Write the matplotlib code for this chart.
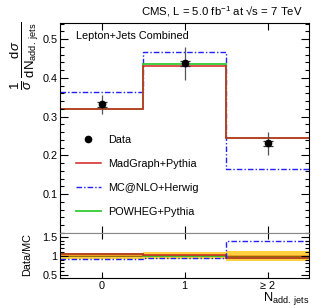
import numpy as np
import matplotlib
matplotlib.use("Agg")
from matplotlib import pyplot as plt
from matplotlib.ticker import MultipleLocator
from matplotlib.lines import Line2D

plt.rcParams['font.family'] = ['Liberation Sans', 'DejaVu Sans']
plt.rcParams['mathtext.fontset'] = 'custom'
plt.rcParams['mathtext.rm'] = 'Liberation Sans'
plt.rcParams['mathtext.it'] = 'Liberation Sans:italic'
plt.rcParams['mathtext.sf'] = 'Liberation Sans'

# data
bins = [0, 1, 2]
bin_labels = ["0", "1", "\u2265 2"]
data = np.array([0.332, 0.438, 0.231])
data_err = np.array([0.025, 0.043, 0.029])
data_stat = np.array([0.006, 0.007, 0.006])
madgraph = np.array([0.321, 0.432, 0.244])
mcatnlo = np.array([0.363, 0.468, 0.166])
powheg = np.array([0.319, 0.437, 0.244])

edges = np.arange(len(bins) + 1) - 0.5
x = np.array(bins)

red = '#d42020'
blue = '#2020ff'
green = '#33cc33'
dashdot = (0, (4, 1.5, 1, 1.5))

fig = plt.figure(figsize=(3.16, 3.08), dpi=100)
ax = fig.add_axes([0.190, 0.2435, 0.788, 0.682])
rx = fig.add_axes([0.190, 0.0958, 0.788, 0.1477])

# main panel
ax.stairs(mcatnlo, edges, baseline=None, color=blue, lw=1.0, ls=dashdot)
ax.stairs(powheg, edges, baseline=None, color=green, lw=1.3)
ax.stairs(madgraph, edges, baseline=None, color=red, lw=1.1)
ax.errorbar(x, data, yerr=data_err, fmt='none', ecolor='#555555', elinewidth=0.9)
ax.errorbar(x, data, yerr=data_stat, fmt='o', color='black', ms=4.5, ecolor='#333333',
            elinewidth=0.9, capsize=3.5, capthick=0.9)

handles = [Line2D([], [], marker='o', ls='none', color='black', ms=4.5),
           Line2D([], [], color=red, lw=1.1),
           Line2D([], [], color=blue, lw=1.0, ls=dashdot),
           Line2D([], [], color=green, lw=1.3)]
labels = ['Data', 'MadGraph+Pythia', 'MC@NLO+Herwig', 'POWHEG+Pythia']
ax.legend(handles, labels, loc='upper left',
          bbox_to_anchor=(0.064, 0.468), frameon=False, fontsize=7.8,
          handlelength=2.3, handletextpad=0.65, labelspacing=1.3,
          borderpad=0, borderaxespad=0)

ax.set_xlim(edges[0], edges[-1])
ax.set_ylim(0, 0.542)
ax.yaxis.set_minor_locator(MultipleLocator(0.02))
ax.set_yticks([0.1, 0.2, 0.3, 0.4, 0.5])
ax.set_yticklabels(['0.1', '0.2', '0.3', '0.4', '0.5'])
ax.set_xticks(x)
ax.tick_params(axis='x', labelbottom=False, top=True, direction='in', length=5, width=0.8)
ax.tick_params(axis='y', which='major', direction='in', length=6, width=0.8,
               right=True, labelsize=7.8, pad=2)
ax.tick_params(axis='y', which='minor', direction='in', length=3, width=0.8, right=True)
ax.spines['bottom'].set_color('#888888')
for s in ['left', 'right', 'top']:
    ax.spines[s].set_linewidth(0.8)

ax.text(0.064, 0.938, 'Lepton+Jets Combined', transform=ax.transAxes, fontsize=7.8,
        va='center', ha='left')

# ratio panel
rel = data_err / data
rel_stat = data_stat / data
rx.stairs(1 + rel, edges, baseline=1 - rel, fill=True, color='#ffd040', lw=0)
rx.stairs(1 + rel_stat, edges, baseline=1 - rel_stat, fill=True, color='#f0a020', lw=0)
rx.stairs(np.ones(len(bins)), edges, baseline=None, color='#806000', lw=0.6)
rx.stairs(data / powheg, edges, baseline=None, color=green, lw=1.2)
rx.stairs(data / madgraph, edges, baseline=None, color=red, lw=1.1)
rx.stairs(data / mcatnlo, edges, baseline=None, color=blue, lw=1.0, ls=dashdot)

rx.set_xlim(edges[0], edges[-1])
rx.set_ylim(0.4, 1.6)
rx.set_yticks([0.5, 1.0, 1.5])
rx.set_yticklabels(['0.5', '1', '1.5'])
rx.yaxis.set_minor_locator(MultipleLocator(0.1))
rx.set_xticks(x)
rx.set_xticklabels(bin_labels)
rx.tick_params(axis='x', top=True, direction='in', length=4, width=0.8, labelsize=7.8, pad=1.5)
rx.tick_params(axis='y', which='major', direction='in', length=6, width=0.8,
               right=True, labelsize=7.8, pad=2)
rx.tick_params(axis='y', which='minor', direction='in', length=3, width=0.8, right=True)
rx.spines['top'].set_color('#888888')
for s in ['left', 'right', 'bottom']:
    rx.spines[s].set_linewidth(0.8)

# labels
fig.text(0.959, 0.961, 'CMS, L = 5.0 fb$^{-1}$ at \u221as = 7 TeV', fontsize=8.2,
         ha='right', va='center')
fig.text(0.079, 0.93,
         r'$\frac{1}{\sigma}\,\frac{\mathrm{d}\sigma}{\mathrm{dN}_{\mathrm{add.\ jets}}}$',
         fontsize=13.5, rotation=90, ha='center', va='top')
fig.text(0.085, 0.172, 'Data/MC', fontsize=7.8, rotation=90, ha='center', va='center')
fig.text(0.978, 0.002, r'N$_{\mathrm{add.\ jets}}$', fontsize=9.2, ha='right', va='bottom')

fig.savefig('out.png', dpi=100)
